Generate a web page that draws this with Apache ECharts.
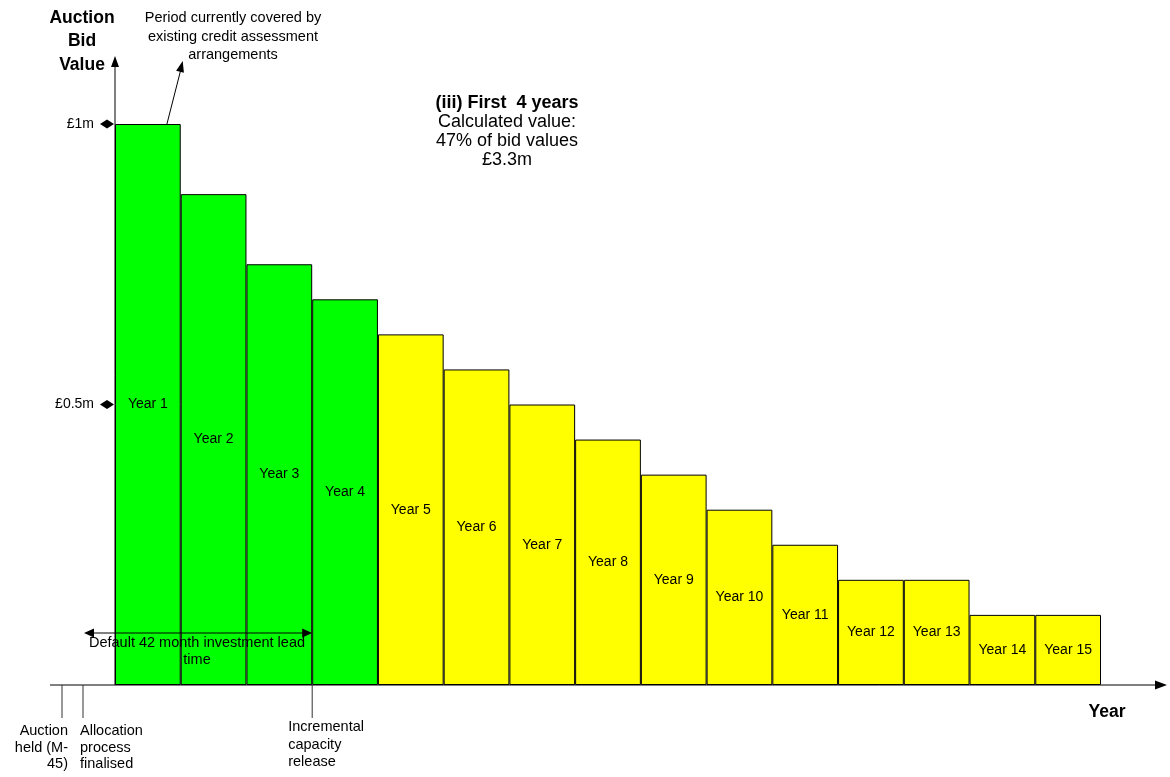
<!DOCTYPE html>
<html>
<head>
<meta charset="utf-8">
<script src="https://cdn.jsdelivr.net/npm/echarts@6/dist/echarts.min.js"></script>
<style>
  html, body { margin: 0; padding: 0; background: #fff; }
  #chart { width: 1170px; height: 777px; }
</style>
</head>
<body>
<div id="chart"></div>
<script>
// Auction bid value per contract year (£m)
const years = ['Year 1', 'Year 2', 'Year 3', 'Year 4', 'Year 5', 'Year 6', 'Year 7', 'Year 8',
               'Year 9', 'Year 10', 'Year 11', 'Year 12', 'Year 13', 'Year 14', 'Year 15'];
const bidValues = [1, 0.875, 0.75, 0.6875, 0.625, 0.5625, 0.5, 0.4375,
                   0.375, 0.3125, 0.25, 0.1875, 0.1875, 0.125, 0.125];
const coveredYears = 4;               // years inside the credit assessment period
const yTicks = [0.5, 1];
const yTickLabels = ['£0.5m', '£1m'];

const FONT = '"Liberation Sans", Arial, Helvetica, sans-serif';
const GREEN = '#00ff00';
const YELLOW = '#ffff00';

const chart = echarts.init(document.getElementById('chart'));

chart.setOption({
  animation: false,
  backgroundColor: '#fff',
  grid: { left: 115, right: 69, top: 124, bottom: 92 },
  xAxis: {
    type: 'category',
    data: years,
    axisLine: { show: false },
    axisTick: { show: false },
    axisLabel: { show: false }
  },
  yAxis: {
    type: 'value',
    min: 0,
    max: 1,
    interval: 0.5,
    splitLine: { show: false },
    axisLine: { show: false },
    axisTick: { show: false },
    axisLabel: {
      margin: 21,
      color: '#000',
      fontSize: 14,
      fontFamily: FONT,
      formatter: function (v) {
        const i = yTicks.indexOf(v);
        return i >= 0 ? yTickLabels[i] : '';
      }
    }
  },
  series: [{
    type: 'bar',
    barCategoryGap: '0%',
    data: bidValues.map(function (v, i) {
      return { value: v, itemStyle: { color: i < coveredYears ? GREEN : YELLOW } };
    }),
    itemStyle: { borderColor: '#000', borderWidth: 1 },
    label: {
      show: true,
      position: 'inside',
      formatter: '{b}',
      color: '#000',
      fontSize: 14,
      fontFamily: FONT
    }
  }]
});

// ---- annotations built from the axis scales ----
const px = function (cat, val) { return chart.convertToPixel({ gridIndex: 0 }, [cat, val]); };
const c0 = px(years[0], 0);
const c1 = px(years[1], 0);
const bw = c1[0] - c0[0];
const axisX = c0[0] - bw / 2;                  // left edge of first bar
const baseY = c0[1];
const edgeX = function (i) { return axisX + i * bw; };   // left edge of bar i
const lastEdge = edgeX(years.length);

const Z = 100;
const line = function (x1, y1, x2, y2, color, w) {
  return { type: 'line', z: Z, shape: { x1: x1, y1: y1, x2: x2, y2: y2 },
           style: { stroke: color || '#000', lineWidth: w || 1 }, silent: true };
};
const arrowHead = function (tx, ty, fx, fy, len, half) {
  const dx = tx - fx, dy = ty - fy;
  const d = Math.sqrt(dx * dx + dy * dy);
  const ux = dx / d, uy = dy / d;
  const bx = tx - ux * len, by = ty - uy * len;
  return { type: 'polygon', z: Z,
           shape: { points: [[tx, ty], [bx - uy * half, by + ux * half], [bx + uy * half, by - ux * half]] },
           style: { fill: '#000' }, silent: true };
};
const text = function (str, x, y, opt) {
  opt = opt || {};
  return { type: 'text', z: Z, x: x, y: y, silent: true,
           style: { text: str, fill: '#000', align: opt.align || 'center', verticalAlign: 'middle',
                    font: (opt.bold ? 'bold ' : '') + (opt.size || 14.5) + 'px ' + FONT,
                    lineHeight: opt.lh || 17 } };
};

const g = [];

// axes with arrowheads
g.push(line(axisX, baseY, axisX, 66));
g.push(arrowHead(axisX, 56, axisX, 90, 11, 4));
g.push(line(50, baseY, lastEdge + 55, baseY));
g.push(arrowHead(lastEdge + 66, baseY, 0, baseY, 12, 4.5));

// diamond markers on the value axis
yTicks.forEach(function (v) {
  const y = px(years[0], v)[1];
  g.push({ type: 'polygon', z: Z, silent: true,
           shape: { points: [[axisX - 15, y], [axisX - 8, y - 4.5], [axisX - 1, y], [axisX - 8, y + 4.5]] },
           style: { fill: '#000' } });
});

// pointer to the covered period
const topY = px(years[0], bidValues[0])[1];
g.push(line(axisX + bw * 0.79, topY, axisX + bw * 1.0, 70));
g.push(arrowHead(axisX + bw * 1.03, 61, axisX + bw * 0.79, topY, 11, 4));

// lead time double arrow
const leadY = baseY - 52;
const leadEnd = edgeX(3);
g.push(line(92, leadY, leadEnd - 8, leadY));
g.push(arrowHead(84, leadY, leadEnd, leadY, 10, 4.5));
g.push(arrowHead(leadEnd, leadY, 84, leadY, 10, 4.5));

// milestone ticks below the axis
g.push(line(62, baseY, 62, baseY + 33, '#333'));
g.push(line(83, baseY, 83, baseY + 33, '#333'));
g.push(line(leadEnd, baseY, leadEnd, baseY + 33, '#333'));

// texts
g.push(text('Auction\nBid\nValue', 82, 41.5, { bold: true, size: 17.5, lh: 23.5 }));
g.push(text('Period currently covered by\nexisting credit assessment\narrangements', 233, 36.5, { lh: 18.5 }));
g.push(text('(iii) First  4 years', 507, 103, { bold: true, size: 18 }));
g.push(text('Calculated value:\n47% of bid values\n£3.3m', 507, 141.5, { size: 18, lh: 19 }));
g.push(text('Default 42 month investment lead\ntime', 197, 651.5, { lh: 17 }));
g.push(text('Auction\nheld (M-\n45)', 68, 747.5, { align: 'right', lh: 16.5 }));
g.push(text('Allocation\nprocess\nfinalised', 80, 747.5, { align: 'left', lh: 16.5 }));
g.push(text('Incremental\ncapacity\nrelease', leadEnd - 24, 744.5, { align: 'left', lh: 17.5 }));
g.push(text('Year', 1107, 712, { bold: true, size: 17.5 }));

chart.setOption({ graphic: { elements: g } });
</script>
</body>
</html>
